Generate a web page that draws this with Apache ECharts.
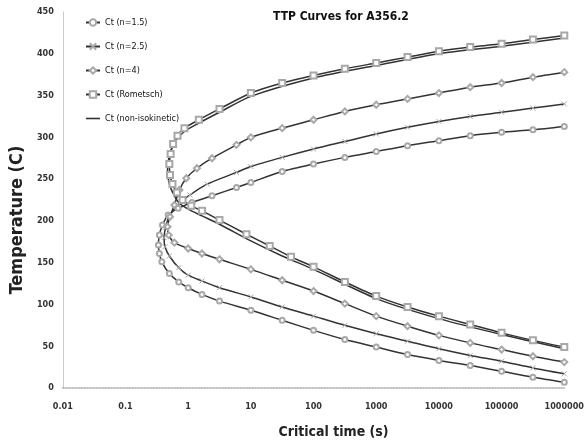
<!DOCTYPE html>
<html><head><meta charset="utf-8">
<script src="https://cdn.jsdelivr.net/npm/echarts/dist/echarts.min.js"></script>
<style>html,body{margin:0;padding:0;background:#fff}#c{width:587px;height:447px}</style>
</head><body><div id="c"></div>
<script>
// Tick labels
const xTickLabels = ['0.01','0.1','1','10','100','1000','10000','100000','1000000'];
const yTicks = [0,50,100,150,200,250,300,350,400,450];
const seriesNames = ['Ct (n=1.5)','Ct (n=2.5)','Ct (n=4)','Ct (Rometsch)','Ct (non-isokinetic)'];

// Ct (n=1.5)  (time s, temperature C), traced along the C-curve
const n15Time = [1000000,316000,100000,31600,10000,3160,1000,316,100,31.6,10,5.9,2.4,1.15,0.692,0.479,0.389,0.347,0.335,0.347,0.38,0.501,0.708,1,1.66,3.16,10,31.6,100,316,1000,3160,10000,31600,100000,316000,1000000];
const n15Temp = [313,309,306,302,296,290,283,276,268,259,246,240,230,222,215,207,195,183,171,161,151,137,127,120,112,104,93,81,69,58,49,40,33,27,20,13,7];

// Ct (n=2.5)
const n25Time = [1000000,316000,100000,31600,10000,3160,1000,316,100,31.6,10,5.9,2.0,1.07,0.676,0.501,0.437,0.412,0.427,0.501,0.708,1,1.66,3.16,10,31.6,100,316,1000,3160,10000,31600,100000,316000,1000000];
const n25Temp = [340,335,330,325,319,312,304,295,286,276,265,258,244,231,219,206,192,180,169,158,144,135,128,120,109,97,86,75,65,56,47,39,32,24,17];

// Ct (n=4)
const n4Time = [1000000,316000,100000,31600,10000,3160,1000,316,100,31.6,10,5.9,2.4,1.38,0.933,0.724,0.603,0.513,0.468,0.49,0.603,1,1.66,3.16,10,31.6,100,316,1000,3160,10000,31600,100000,316000,1000000];
const n4Temp = [378,372,365,360,353,346,339,331,321,311,300,291,275,263,251,237,219,205,193,183,174,167,161,154,142,129,116,101,86,74,63,54,46,38,31];

// Ct (Rometsch)
const romTime = [1000000,316000,100000,31600,10000,3160,1000,316,100,31.6,10,3.16,1.48,0.871,0.676,0.575,0.525,0.501,0.513,0.562,0.661,0.813,1.12,1.66,3.16,8.5,20,43.7,100,316,1000,3160,10000,31600,100000,316000,1000000];
const romTemp = [422,417,412,408,403,396,389,382,374,365,353,334,321,311,302,292,280,268,255,244,234,225,218,212,201,184,170,157,145,127,110,97,86,76,66,57,49];

// Ct (non-isokinetic)
const nonIsoTime = [1000000,100000,10000,1000,100,10,3.16,1.48,0.871,0.631,0.525,0.479,0.468,0.49,0.55,0.708,1,1.66,3.16,10,31.6,100,1000,10000,100000,1000000];
const nonIsoTemp = [419,409,400,386,371,349,330,317,307,296,284,270,260,247,236,222,214,206,196,176,158,142,107,83,64,47];

function pts(t, T){ return t.map((v,i)=>[v, T[i]]); }
const FONT = "'Liberation Sans Narrow','DejaVu Sans Condensed','Liberation Sans',sans-serif";
const LINE = '#333';
const MK = '#a8a8a8';

function mkSeries(name, t, T, symbol, size){
  const plain = symbol === 'none';
  return {
    name: name, type:'line', data: pts(t,T), smooth:0.25,
    symbol: symbol, symbolSize: size, showSymbol: !plain,
    lineStyle:{color:LINE, width:1.5},
    itemStyle: plain ? {color:LINE} : {color:MK, borderColor:MK, borderWidth:1},
    emphasis:{disabled:true}
  };
}

const chart = echarts.init(document.getElementById('c'));
chart.setOption({
  animation:false,
  title:{text:'TTP Curves for A356.2', left:268, top:6,
    textStyle:{fontSize:12, fontWeight:'bold', color:'#111', fontFamily:FONT}},
  legend:{orient:'vertical', left:80, top:13, itemGap:15, itemWidth:14, itemHeight:8,
    textStyle:{fontSize:9, color:'#111', fontFamily:FONT},
    data:[seriesNames[0], seriesNames[1], seriesNames[2], seriesNames[3],
      {name:seriesNames[4], icon:'path://M0,0L14,0L14,1.6L0,1.6Z'}]},
  grid:{left:62, right:20, top:12, bottom:59},
  xAxis:{type:'log', logBase:10, min:0.01, max:1000000, interval:1,
    name:'Critical time (s)', nameLocation:'middle', nameGap:37,
    nameTextStyle:{fontSize:14, fontWeight:'bold', color:'#222', fontFamily:FONT, padding:[0,0,0,40]},
    axisLine:{lineStyle:{color:'#aaa', type:'dotted', width:1.5}},
    axisTick:{show:false}, splitLine:{show:false},
    axisLabel:{margin:14, fontSize:9, fontWeight:'bold', color:'#333', fontFamily:FONT,
      formatter:function(v){ return xTickLabels[Math.round(Math.log10(v))+2]; }}},
  yAxis:{type:'value', min:yTicks[0], max:yTicks[yTicks.length-1], interval:50,
    name:'Temperature (C)', nameLocation:'middle', nameGap:25,
    nameTextStyle:{fontSize:18, fontWeight:'bold', color:'#222', fontFamily:FONT, padding:[0,40,0,0]},
    axisLine:{show:true, lineStyle:{color:'#ccc', width:1}},
    axisTick:{show:false}, splitLine:{show:false},
    axisLabel:{margin:9, fontSize:9, fontWeight:'bold', color:'#333', fontFamily:FONT}},
  series:[
    mkSeries(seriesNames[0], n15Time, n15Temp, 'emptyCircle', 5),
    mkSeries(seriesNames[1], n25Time, n25Temp, 'path://M0,0L10,10M10,0L0,10', 5),
    mkSeries(seriesNames[2], n4Time, n4Temp, 'emptyDiamond', 6),
    mkSeries(seriesNames[3], romTime, romTemp, 'emptyRect', 6),
    mkSeries(seriesNames[4], nonIsoTime, nonIsoTemp, 'none', 0)
  ]
});
</script></body></html>
